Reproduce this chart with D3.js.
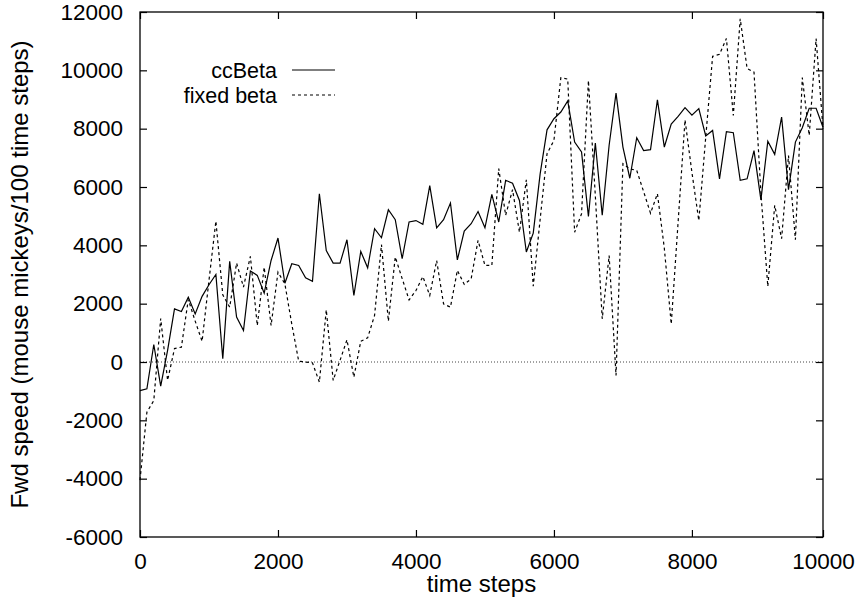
<!DOCTYPE html>
<html>
<head>
<meta charset="utf-8">
<script src="https://cdn.jsdelivr.net/npm/d3@7"></script>
<style>
    body { margin: 0; background: #fff; }
    text { font-family: "Liberation Sans", Arial, Helvetica, sans-serif; fill: #000; }
</style>
</head>
<body>
<div id="chart"></div>
<script>
// time steps (every 100 steps)
var steps = d3.range(0, 10000, 100);

// ccBeta series
var ccBeta = [
    -980, -920, 600, -830, 400, 1820, 1730, 2220, 1650, 2250,
    2650, 3000, 110, 3450, 1540, 1080, 3120, 2970, 2360, 3480,
    4250, 2700, 3370, 3310, 2890, 2770, 5770, 3820, 3390, 3390,
    4190, 2280, 3790, 3230, 4570, 4260, 5220, 4880, 3540, 4800,
    4850, 4720, 6050, 4600, 4880, 5450, 3500, 4490, 4740, 5160,
    4600, 5750, 4800, 6230, 6130, 5540, 3770, 4420, 6450, 7960,
    8340, 8570, 8950, 7540, 7200, 4990, 7510, 5030, 7430, 9220,
    7370, 6300, 7690, 7250, 7280, 8990, 7370, 8160, 8420, 8720,
    8460, 8690, 7750, 7940, 6280, 7900, 7860, 6230, 6280, 7250,
    5560, 7570, 7120, 8400, 5910, 7540, 8030, 8700, 8700, 8050
];

// fixed beta series
var fixedBeta = [
    -4050, -1720, -1320, 1490, -630, 460, 510, 2140, 1400, 710,
    2800, 4830, 2300, 1880, 3390, 2570, 3620, 1250, 3250, 1250,
    3080, 2680, 1300, 30, 0, -30, -690, 1790, -630, 60,
    760, -520, 710, 830, 1600, 4030, 1400, 3600, 2860, 2130,
    2450, 2930, 2280, 3480, 1990, 1880, 3140, 2660, 2850, 4170,
    3310, 3310, 6630, 5030, 5910, 4450, 6250, 2600, 4890, 7140,
    7600, 9750, 9700, 4450, 5080, 9650, 5700, 1480, 3650, -460,
    6800, 6620, 6570, 5840, 5100, 5770, 3900, 1300, 4800, 8300,
    6500, 4850, 7700, 10480, 10550, 11090, 8450, 11770, 10060, 9940,
    5800, 2590, 5370, 4230, 7080, 4190, 9750, 7770, 11090, 8000
];

var yTicks = [-6000, -4000, -2000, 0, 2000, 4000, 6000, 8000, 10000, 12000];
// the right border sits at the last sample and is labelled 10000
var xTicks = [0, 2000, 4000, 6000, 8000, 9900];
var xTickLabels = ["0", "2000", "4000", "6000", "8000", "10000"];

var margin = {
    top: 12,
    right: 34,
    bottom: 62,
    left: 140
};

var width = 857 - margin.left - margin.right;
var height = 599 - margin.top - margin.bottom;
var tickFont = 22.5;
var labelFont = 24;
var legendFont = 21.5;
var tickLen = 7;

var svg = d3.select("#chart").append("svg").attr("width", 857).attr("height", 599).append("g").attr("transform", "translate(" + margin.left + "," + margin.top + ")");

var x = d3.scaleLinear().domain([0, 9900]).range([0, width]);
var y = d3.scaleLinear().domain([-6000, 12000]).range([height, 0]);

// zero axis, dotted
svg.append("line").attr("x1", 0).attr("x2", width).attr("y1", y(0)).attr("y2", y(0))
    .attr("stroke", "#444").attr("stroke-width", 1).attr("stroke-dasharray", "1,2");

// Bottom axis with inward ticks
var xAxis = svg.append("g").attr("transform", "translate(0," + height + ")")
    .call(d3.axisBottom(x).tickValues(xTicks).tickSizeInner(-tickLen).tickSizeOuter(0).tickPadding(16)
        .tickFormat(function (d, i) { return xTickLabels[i]; }));
// mirror ticks on top
var xTop = svg.append("g")
    .call(d3.axisTop(x).tickValues(xTicks).tickSizeInner(-tickLen).tickSizeOuter(0).tickFormat(""));

// Left axis with inward ticks (plain hyphen for negatives)
var yAxis = svg.append("g")
    .call(d3.axisLeft(y).tickValues(yTicks).tickSizeInner(-tickLen).tickSizeOuter(0).tickPadding(17)
        .tickFormat(function (d) { return String(d); }));
// mirror ticks on right
var yRight = svg.append("g").attr("transform", "translate(" + width + ",0)")
    .call(d3.axisRight(y).tickValues(yTicks).tickSizeInner(-tickLen).tickSizeOuter(0).tickFormat(""));

[xAxis, xTop, yAxis, yRight].forEach(function (g) {
    g.select(".domain").remove();
    g.selectAll("line").attr("stroke", "#000").attr("stroke-width", 1.2);
    g.selectAll("text").style("font-size", tickFont + "px").attr("fill", "#000");
});

// border box
svg.append("rect").attr("x", 0).attr("y", 0).attr("width", width).attr("height", height)
    .attr("fill", "none").attr("stroke", "#000").attr("stroke-width", 1.3);

// Series lines
var line = d3.line().x(function (d) { return x(d.step); }).y(function (d) { return y(d.value); });

var ccData = steps.map(function (s, i) { return {step: s, value: ccBeta[i]}; });
var fixedData = steps.map(function (s, i) { return {step: s, value: fixedBeta[i]}; });

svg.append("path").datum(fixedData).attr("d", line).attr("fill", "none")
    .attr("stroke", "#000").attr("stroke-width", 1.2).attr("stroke-dasharray", "3,3");

svg.append("path").datum(ccData).attr("d", line).attr("fill", "none")
    .attr("stroke", "#000").attr("stroke-width", 1.2);

// Axis titles
svg.append("text").attr("x", width / 2).attr("y", 592 - margin.top).attr("text-anchor", "middle")
    .style("font-size", labelFont + "px").text("time steps");

svg.append("text").attr("transform", "translate(" + (28 - margin.left) + "," + (height / 2) + ") rotate(-90)")
    .attr("text-anchor", "middle").style("font-size", labelFont + "px")
    .text("Fwd speed (mouse mickeys/100 time steps)");

// Legend
var legendData = [
    {name: "ccBeta", dash: null},
    {name: "fixed beta", dash: "3,3"}
];

var legend = svg.selectAll(".legend").data(legendData).enter().append("g").attr("class", "legend")
    .attr("transform", function (d, i) {
        return "translate(0," + (70 - margin.top + i * 25) + ")";
    });

legend.append("text").attr("x", 277 - margin.left).attr("y", 0).attr("dy", "0.35em")
    .attr("text-anchor", "end").style("font-size", legendFont + "px")
    .text(function (d) { return d.name; });

legend.append("line").attr("x1", 292 - margin.left).attr("x2", 335 - margin.left).attr("y1", 0).attr("y2", 0)
    .attr("stroke", "#000").attr("stroke-width", 1.2)
    .attr("stroke-dasharray", function (d) { return d.dash; });
</script>
</body>
</html>
